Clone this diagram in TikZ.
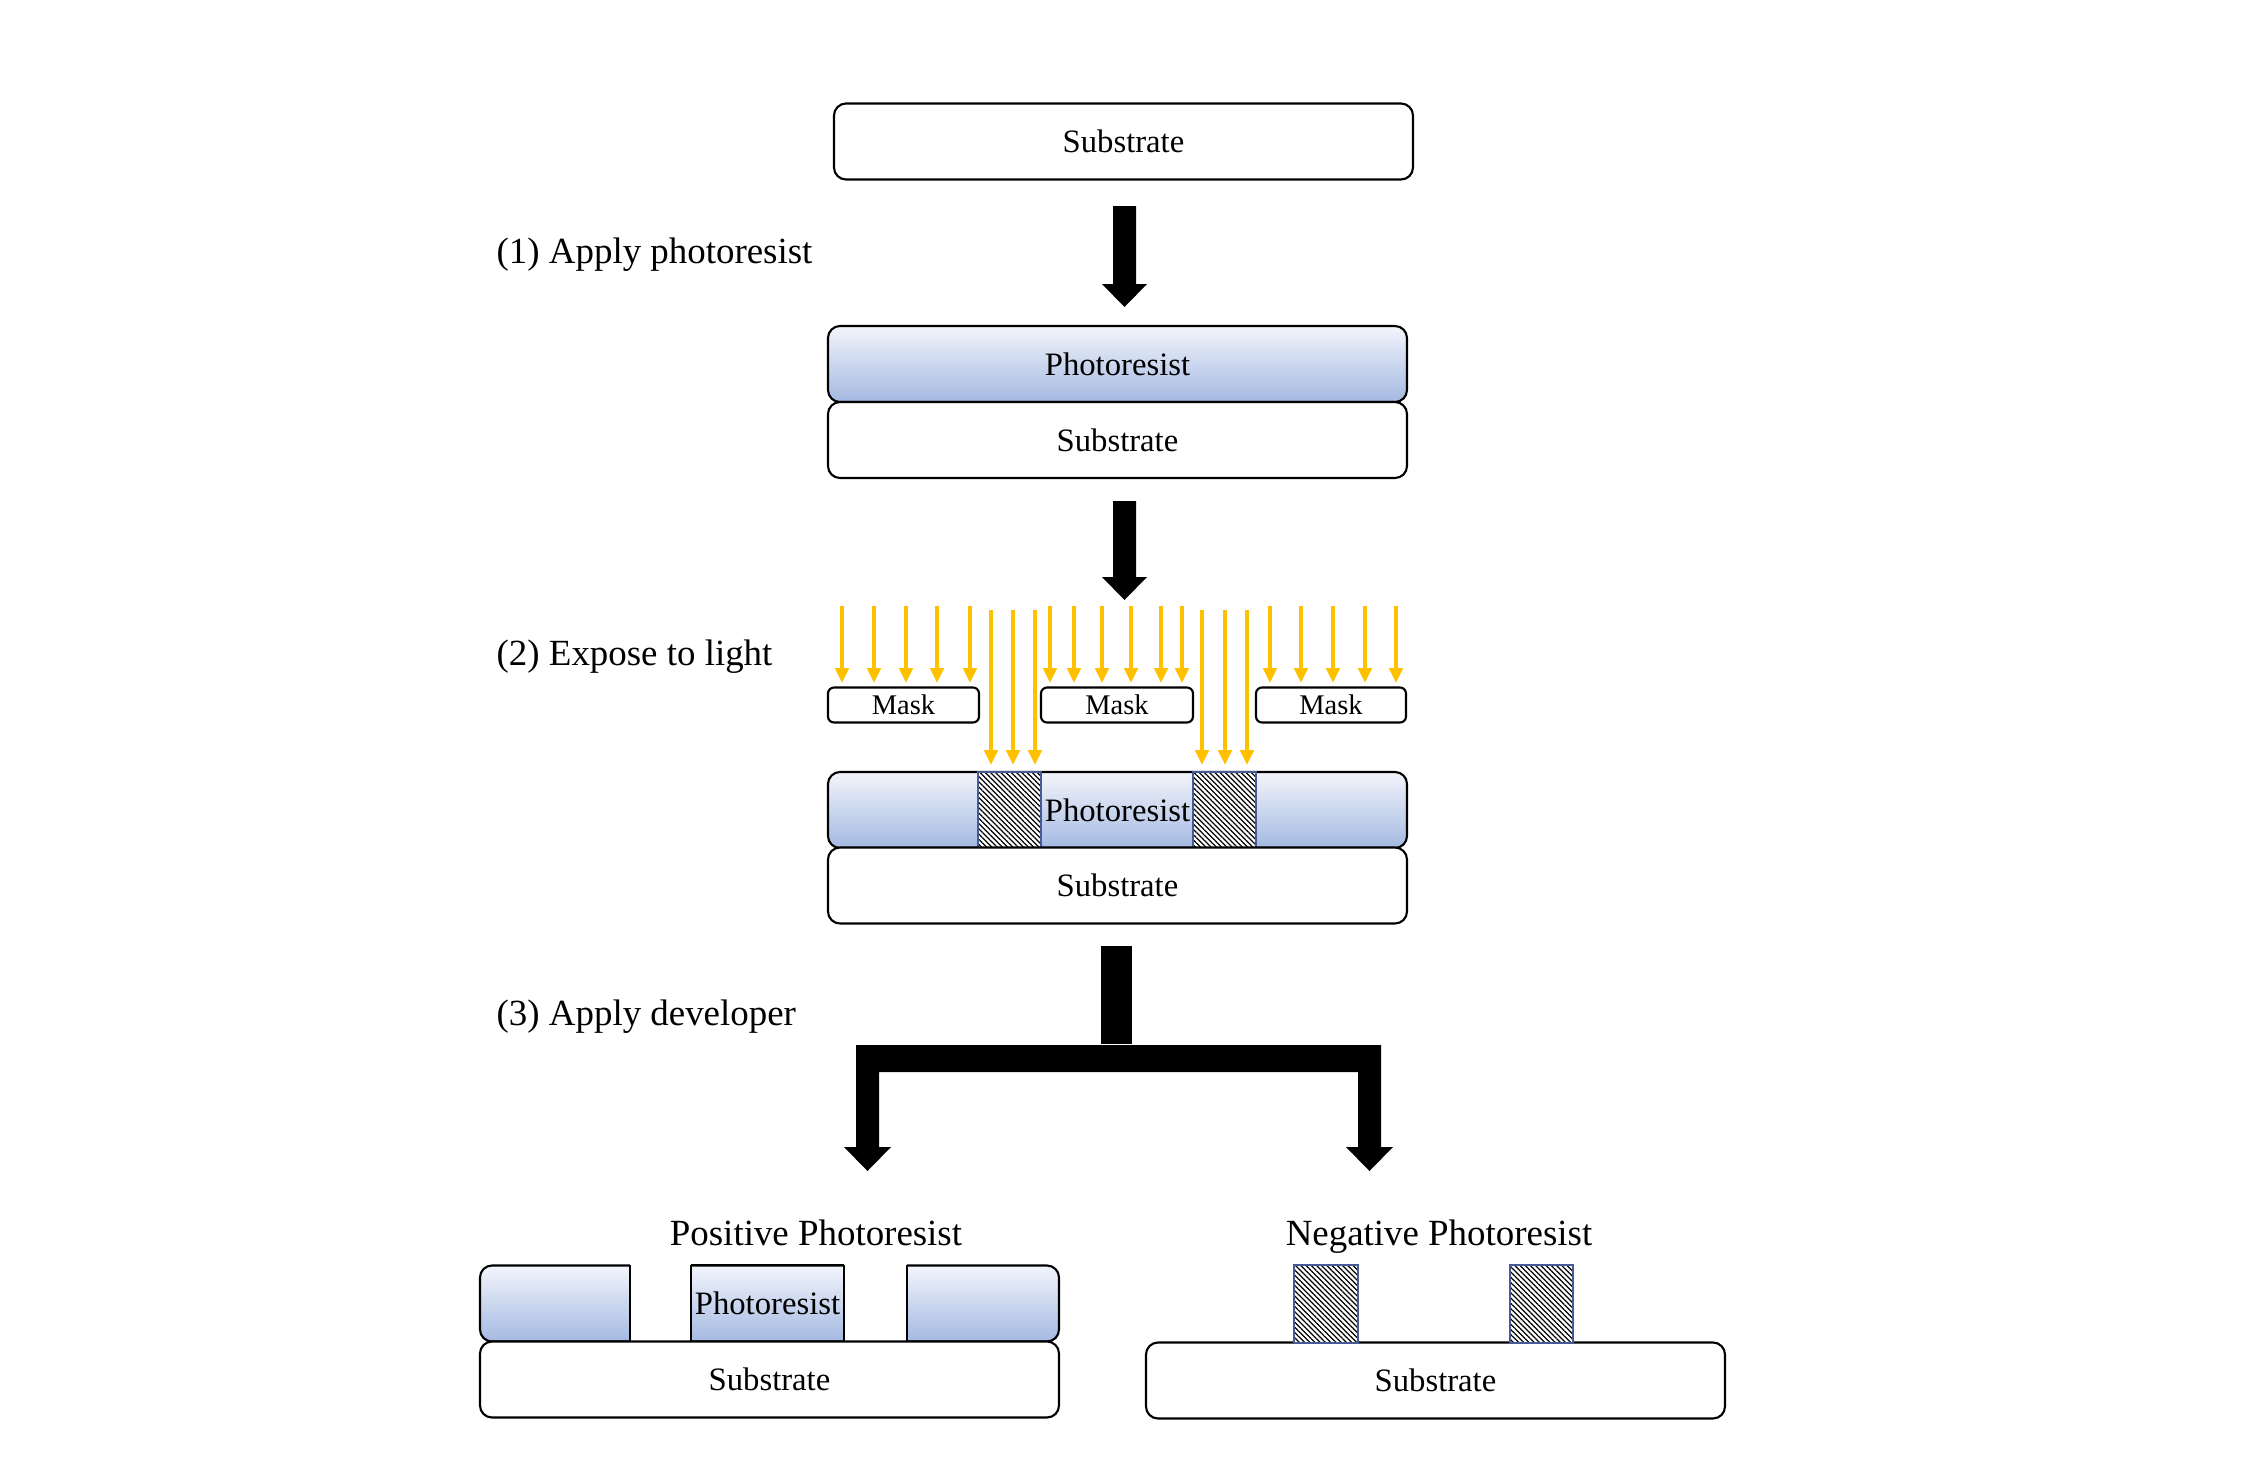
\documentclass[tikz,border=0pt]{standalone}
\usepackage{fontspec}
\setmainfont{Liberation Serif}
\usetikzlibrary{patterns.meta,arrows.meta}
\definecolor{prtop}{RGB}{243,245,251}
\definecolor{prbot}{RGB}{164,185,226}
\definecolor{lightray}{RGB}{255,192,0}
\definecolor{hatchedge}{RGB}{70,90,150}
\begin{document}
\begin{tikzpicture}[x=0.1mm,y=-0.1mm,
  boxtext/.style={font=\fontsize{9.3pt}{11pt}\selectfont},
  layer/.style={draw=black, line width=0.6pt, rounded corners=1.2mm, minimum width=57.9mm, minimum height=7.6mm, inner sep=0pt, boxtext},
  prlayer/.style={layer, top color=prtop, bottom color=prbot},
  sublayer/.style={layer, fill=white},
  maskbox/.style={draw=black, line width=0.6pt, rounded corners=0.6mm, minimum height=3.5mm, inner sep=0pt, fill=white, font=\fontsize{8.1pt}{10pt}\selectfont},
  hatchbox/.style={draw=hatchedge, line width=0.4pt, preaction={fill=white}, pattern={Lines[angle=-45,distance=1.05pt,line width=0.35pt]}},
  steplabel/.style={anchor=base west, font=\fontsize{10.5pt}{12pt}\selectfont, inner sep=0pt},
  titlelabel/.style={anchor=base, font=\fontsize{10.5pt}{12pt}\selectfont, inner sep=0pt},
  ray/.style={draw=lightray, line width=1.05pt, -{Triangle[width=1.35mm,length=1.5mm]}},
  blockarrow/.style={fill=black},
  edge/.style={draw=black, line width=0.6pt},
]
\useasboundingbox (0,0) rectangle (2257,1473);

% ---- Stage 0
\node[sublayer] (sub0) at (1123.5,141.5) {Substrate};

% arrow 1
\fill[blockarrow] (1113,206) -- (1136,206) -- (1136,284) -- (1147,284) -- (1124.5,307) -- (1102,284) -- (1113,284) -- cycle;
\node[steplabel] (lab1) at (496,263) {(1) Apply photoresist};

% ---- Stage 1
\node[prlayer] (pr1) at (1117.5,364) {Photoresist};
\node[sublayer] (sub1) at (1117.5,440) {Substrate};

% arrow 2
\fill[blockarrow] (1113,501) -- (1136,501) -- (1136,577) -- (1147,577) -- (1124.5,600) -- (1102,577) -- (1113,577) -- cycle;

% ---- Stage 2: exposure
\node[steplabel] (lab2) at (496,665) {(2) Expose to light};
\node[maskbox, minimum width=15.1mm] (m1) at (903.5,705) {Mask};
\node[maskbox, minimum width=15.2mm] (m2) at (1117,705) {Mask};
\node[maskbox, minimum width=15.0mm] (m3) at (1331,705) {Mask};

\foreach \xx in {842,874,906,937,970,1050,1074,1102,1131,1161,1182,1270,1301,1333,1365,1396}
  \draw[ray] (\xx,606) -- (\xx,683);
\foreach \xx in {991,1013,1035,1202,1225,1247}
  \draw[ray] (\xx,610) -- (\xx,765);

\node[prlayer] (pr2) at (1117.5,810) {};
\path[hatchbox] (978,772) rectangle (1041,848);
\path[hatchbox] (1193,772) rectangle (1256,848);
\node[boxtext] (pr2t) at (pr2.center) {Photoresist};
\node[sublayer] (sub2) at (1117.5,885.5) {Substrate};

% ---- branching arrow
\node[steplabel] (lab3) at (496,1025) {(3) Apply developer};
\fill[blockarrow] (1101,946) rectangle (1132,1044);
\fill[blockarrow] (856,1045) -- (1381,1045) -- (1381,1147) -- (1393,1147) -- (1369.5,1171) -- (1346,1147) -- (1358,1147) -- (1358,1072) -- (879,1072) -- (879,1147) -- (891,1147) -- (867.5,1171) -- (844,1147) -- (856,1147) -- cycle;

% ---- Positive photoresist
\node[titlelabel] (postitle) at (816,1245) {Positive Photoresist};
\node[prlayer] (pospr) at (769.5,1303.5) {};
\fill[white] (630,1258) rectangle (691,1341);
\fill[white] (844,1258) rectangle (907,1341);
\node[sublayer] (possub) at (769.5,1379.5) {Substrate};
\draw[edge] (630,1265) -- (630,1342);
\draw[edge] (691,1265) -- (691,1342);
\draw[edge] (844,1265) -- (844,1342);
\draw[edge] (907,1265) -- (907,1342);
\draw[edge] (691,1265) -- (844,1265);
\node[boxtext] (posprt) at (767.5,1303.5) {Photoresist};

% ---- Negative photoresist
\node[titlelabel] (negtitle) at (1439,1245) {Negative Photoresist};
\node[sublayer] (negsub) at (1435.5,1380.5) {Substrate};
\path[hatchbox] (1294,1265) rectangle (1358,1343);
\path[hatchbox] (1510,1265) rectangle (1573,1343);
\end{tikzpicture}
\end{document}
